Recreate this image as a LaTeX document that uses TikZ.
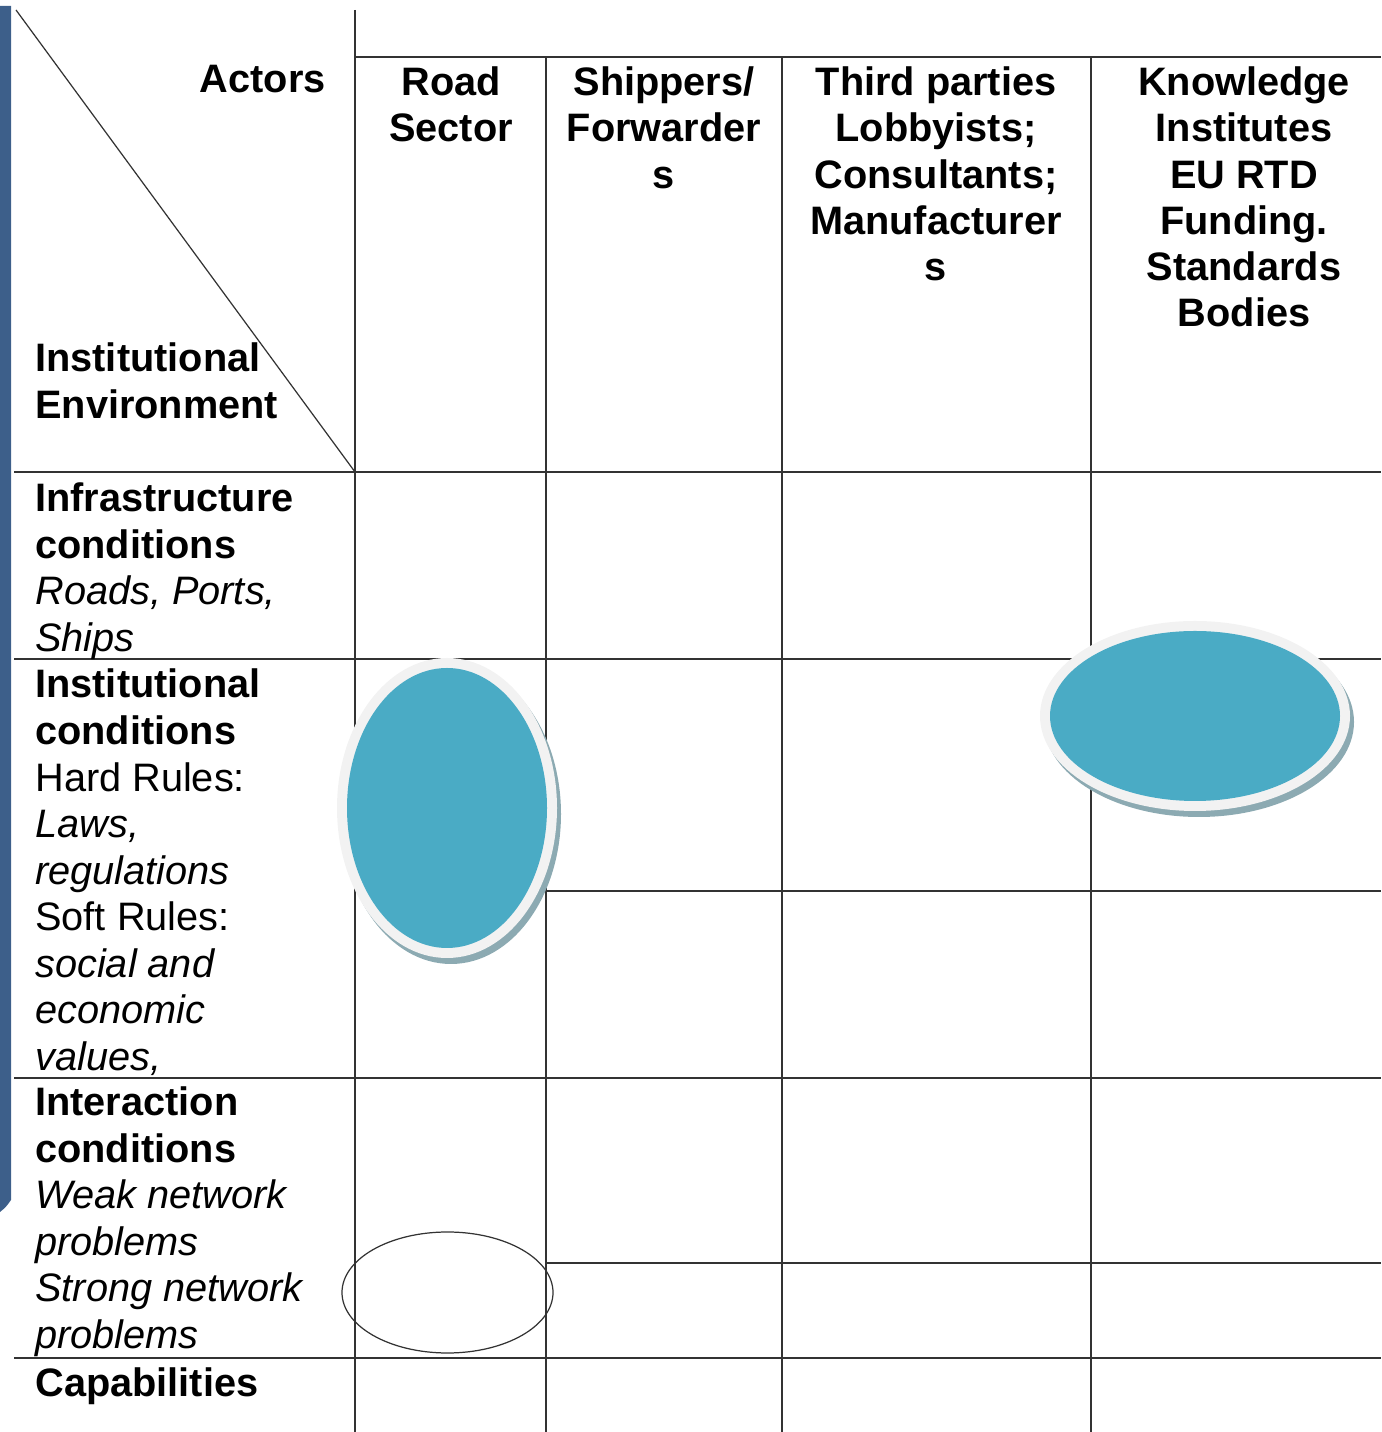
\documentclass[tikz,border=0pt]{standalone}
\usepackage{fontspec}
\setmainfont{Liberation Sans}
\definecolor{barblue}{RGB}{61,95,138}
\definecolor{bubblefill}{RGB}{74,171,197}
\definecolor{bubblerim}{RGB}{242,242,242}
\definecolor{bubbleshadow}{RGB}{140,170,178}
\tikzset{
  gridline/.style={line width=0.7pt,black!80},
  cell/.style={inner sep=0pt,font=\fontsize{22.6}{26.5}\selectfont},
  rowtext/.style={cell,anchor=north west,align=left},
  headtext/.style={cell,anchor=north,align=center,font=\fontsize{22.6}{26.3}\selectfont\bfseries}
}
\begin{document}
\begin{tikzpicture}

	\useasboundingbox (0,0) rectangle (27.62,28.64);

	% blue bar on the left
	\fill[barblue] (0,28.52) -- (0.22,28.52) -- (0.22,4.64) .. controls (0.12,4.5) .. (0,4.4) -- cycle;

	% grid
	\draw[gridline] (0.32,28.44) -- (7.1,19.2); % diagonal of the corner cell
	\draw[gridline] (7.1,28.44) -- (7.1,0);
	\draw[gridline] (7.1,27.5) -- (27.62,27.5);
	\draw[gridline] (10.92,27.5) -- (10.92,0);
	\draw[gridline] (15.64,27.5) -- (15.64,0);
	\draw[gridline] (21.82,27.5) -- (21.82,0);

	\draw[gridline] (0.28,19.2) -- (27.62,19.2);
	\draw[gridline] (0.28,15.46) -- (27.62,15.46);
	\draw[gridline] (10.92,10.82) -- (27.62,10.82);
	\draw[gridline] (0.28,7.08) -- (27.62,7.08);
	\draw[gridline] (10.92,3.38) -- (27.62,3.38);
	\draw[gridline] (0.28,1.48) -- (27.62,1.48);

	% corner labels
	\node[cell,anchor=base east,font=\fontsize{22.6}{26.5}\selectfont\bfseries] (actors) at (6.52,26.78) {Actors};
	\node[rowtext,font=\fontsize{22.6}{26.5}\selectfont\bfseries] (instenv) at (0.7,21.87) {\strut Institutional\\Environment};

	% actors
	\node[headtext] (hroad) at (9.02,27.38) {\strut Road\\Sector};
	\node[headtext] (hshippers) at (13.28,27.38) {\strut Shippers/\\Forwarder\\s};
	\node[headtext] (hthird) at (18.72,27.38) {\strut Third parties\\Lobbyists;\\Consultants;\\Manufacturer\\s};
	\node[headtext] (hknow) at (24.88,27.38) {\strut Knowledge\\Institutes\\EU RTD\\Funding.\\Standards\\Bodies};

	% institutional environment
	\node[rowtext] (rinfra) at (0.7,19.07) {\strut\textbf{Infrastructure}\\\textbf{conditions}\\\textit{Roads, Ports,}\\\textit{Ships}};
	\node[rowtext] (rinst) at (0.7,15.34) {\strut\textbf{Institutional}\\\textbf{conditions}\\Hard Rules:\\\textit{Laws,}\\\textit{regulations}\\Soft Rules:\\\textit{social and}\\\textit{economic}\\\textit{values,}};
	\node[rowtext] (rinter) at (0.7,6.99) {\strut\textbf{Interaction}\\\textbf{conditions}\\\textit{Weak network}\\\textit{problems}\\\textit{Strong network}\\\textit{problems}};
	\node[cell,anchor=base west,font=\fontsize{22.6}{26.5}\selectfont\bfseries] (rcap) at (0.7,0.7) {Capabilities};

	% bubbles
	\fill[bubbleshadow] (9.02,12.36) ellipse (2.2cm and 3cm);
	\fill[bubblerim] (8.94,12.48) ellipse (2.2cm and 3cm);
	\fill[bubblefill] (8.94,12.48) ellipse (2cm and 2.8cm);

	\fill[bubbleshadow] (23.98,14.2) ellipse (3.1cm and 1.9cm);
	\fill[bubblerim] (23.9,14.32) ellipse (3.1cm and 1.9cm);
	\fill[bubblefill] (23.9,14.32) ellipse (2.9cm and 1.7cm);

	\draw[gridline] (8.95,2.79) ellipse (2.11cm and 1.21cm);

\end{tikzpicture}
\end{document}
